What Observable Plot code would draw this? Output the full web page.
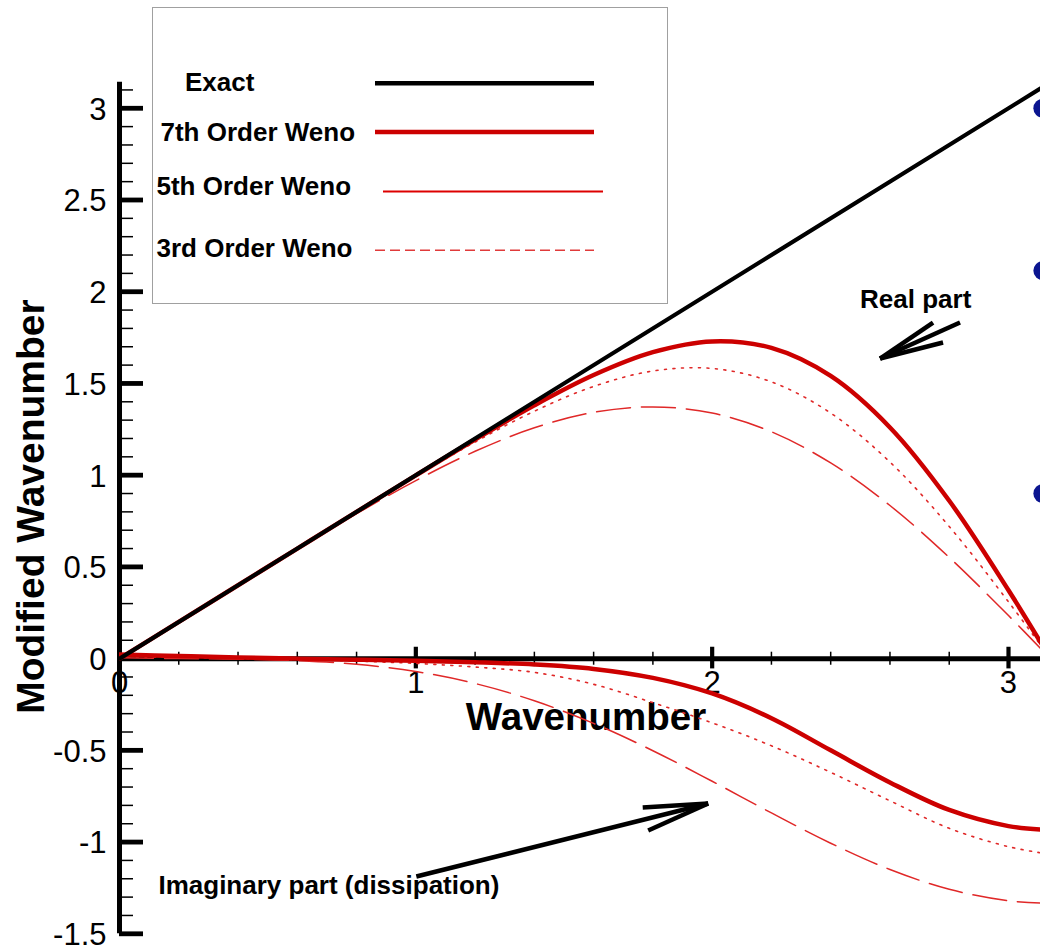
<!DOCTYPE html>
<html>
<head>
<meta charset="utf-8">
<script src="https://cdn.jsdelivr.net/npm/d3@7"></script>
<script src="https://cdn.jsdelivr.net/npm/@observablehq/plot@0.6"></script>
<style>
  html, body { margin: 0; padding: 0; background: #fff; overflow: hidden; }
  #wrap { position: relative; width: 1040px; height: 947px; }
  #legend { position: absolute; left: 0; top: 0; pointer-events: none; }
  #legend text { font-family: "Liberation Sans", Arial, Helvetica, sans-serif; font-weight: bold; font-size: 26px; fill: #000; }
</style>
</head>
<body>
<div id="wrap"></div>
<script>
// ---- data ----
const wavenumber = [0, 0.2, 0.4, 0.6, 0.8, 1.0, 1.2, 1.4, 1.6, 1.8, 2.0, 2.2, 2.4, 2.6, 2.8, 3.0, 3.1416];

const real7 = [0, 0.200, 0.400, 0.600, 0.7998, 0.9988, 1.1945, 1.3808, 1.5459, 1.6706, 1.7292, 1.6938, 1.5409, 1.2602, 0.8606, 0.3728, 0];
const real5 = [0, 0.200, 0.400, 0.5998, 0.7987, 0.9941, 1.1807, 1.3486, 1.4837, 1.5678, 1.5817, 1.5086, 1.3385, 1.0716, 0.7204, 0.3092, 0];
const real3 = [0, 0.200, 0.3997, 0.5975, 0.7899, 0.9704, 1.1301, 1.2581, 1.3425, 1.3722, 1.3385, 1.2366, 1.0666, 0.8346, 0.5519, 0.2347, 0];

const imag7 = [0.022, 0.014, 0.006, 0.0, -0.006, -0.012, -0.02, -0.032, -0.056, -0.105, -0.19, -0.325, -0.50, -0.675, -0.825, -0.913, -0.935];
const imag5 = [0.01, 0.006, 0.0, -0.006, -0.014, -0.026, -0.046, -0.075, -0.14, -0.24, -0.35, -0.475, -0.62, -0.775, -0.925, -1.025, -1.067];
const imag3 = [0.005, 0.0, -0.003, -0.011, -0.031, -0.0704, -0.1355, -0.2297, -0.3531, -0.502, -0.6685, -0.8411, -1.0062, -1.1494, -1.2574, -1.32, -1.3333];

const exactX = [0, 3.1416];
const exactY = [0, 3.1416];

const dotX = [3.116, 3.116, 3.116];
const dotY = [3.0, 2.115, 0.9];

const xMajor = [0, 1, 2, 3];
const xTickLabels = ["0", "1", "2", "3"];
const xMinor = [0.2, 0.4, 0.6, 0.8, 1.2, 1.4, 1.6, 1.8, 2.2, 2.4, 2.6, 2.8];

const yMajor = [-1.5, -1, -0.5, 0, 0.5, 1, 1.5, 2, 2.5, 3];
const yTickLabels = ["-1.5", "-1", "-0.5", "0", "0.5", "1", "1.5", "2", "2.5", "3"];
const yMinor = [-1.4, -1.3, -1.2, -1.1, -0.9, -0.8, -0.7, -0.6, -0.4, -0.3, -0.2, -0.1,
                0.1, 0.2, 0.3, 0.4, 0.6, 0.7, 0.8, 0.9, 1.1, 1.2, 1.3, 1.4, 1.6, 1.7, 1.8, 1.9,
                2.1, 2.2, 2.3, 2.4, 2.6, 2.7, 2.8, 2.9, 3.1];

const seriesNames = ["Exact", "7th Order Weno", "5th Order Weno", "3rd Order Weno"];

const annotationLabels = ["Real part", "Imaginary part (dissipation)"];
const annotationX = [2.499, 0.1315];
const annotationY = [1.912, -1.2805];

// arrow segments (shaft + two barbs) in data units
const arrowX1 = [2.8364, 2.5666, 2.5666, 1.0017, 1.9865, 1.9865];
const arrowY1 = [1.8321, 1.6359, 1.6359, -1.1878, -0.7899, -0.7899];
const arrowX2 = [2.5666, 2.7454, 2.7791, 1.9865, 1.7656, 1.7841];
const arrowY2 = [1.6359, 1.8321, 1.7231, -0.7899, -0.8117, -0.9370];

// ---- build tables ----
const toRows = (ys, key) => wavenumber.map((x, i) => ({x, y: ys[i], key}));
const rows7 = [...toRows(real7, "r7"), ...toRows(imag7, "i7")];
const rows5 = [...toRows(real5, "r5"), ...toRows(imag5, "i5")];
const rows3 = [...toRows(real3, "r3"), ...toRows(imag3, "i3")];
const exactRows = exactX.map((x, i) => ({x, y: exactY[i]}));
const dots = dotX.map((x, i) => ({x, y: dotY[i]}));
const xLab = xMajor.map((x, i) => ({x, label: xTickLabels[i]}));
const yLab = yMajor.map((y, i) => ({y, label: yTickLabels[i]}));
const annotations = annotationLabels.map((label, i) => ({label, x: annotationX[i], y: annotationY[i]}));
const arrows = arrowX1.map((x1, i) => ({x1, y1: arrowY1[i], x2: arrowX2[i], y2: arrowY2[i]}));

const RED = "#cc0000";
const W = 1040, H = 947;

const chart = Plot.plot({
  width: W,
  height: H,
  marginLeft: 119,
  marginRight: 0,
  marginTop: 81.8,
  marginBottom: 13.7,
  x: {domain: [0, 3.108], axis: null},
  y: {domain: [-1.5, Math.PI], axis: null},
  style: {fontFamily: "'Liberation Sans', Arial, Helvetica, sans-serif", background: "white", color: "black"},
  marks: [
    // axes
    Plot.ruleY([0], {stroke: "black", strokeWidth: 5}),
    Plot.ruleX([0], {stroke: "black", strokeWidth: 5}),
    Plot.tickY(yMajor, {y: d => d, insetRight: W - 119 - 24, stroke: "black", strokeWidth: 4.8}),
    Plot.tickY(yMinor, {y: d => d, insetRight: W - 119 - 14, stroke: "black", strokeWidth: 1.5}),
    Plot.ruleX(xMajor, {x: d => d, y1: 0.062, y2: -0.056, stroke: "black", strokeWidth: 4.2}),
    Plot.ruleX(xMinor, {x: d => d, y1: 0.035, y2: -0.036, stroke: "black", strokeWidth: 1.5}),
    Plot.text(yLab, {x: 0, y: "y", text: "label", textAnchor: "end", dx: -13, dy: 1.5, fontSize: 31, fill: "black"}),
    Plot.text(xLab, {x: "x", y: 0, text: "label", dy: 24, fontSize: 31, fill: "black"}),
    // axis titles
    Plot.text(["Wavenumber"], {frameAnchor: "bottom", textAnchor: "middle", lineAnchor: "bottom", dx: 6, dy: -204.3, fontSize: 38.5, fontWeight: "bold", fill: "black"}),
    Plot.text(["Modified Wavenumber"], {frameAnchor: "left", textAnchor: "middle", rotate: -90, lineAnchor: "bottom", dx: -75.5, dy: -1.5, fontSize: 39, fontWeight: "bold", fill: "black"}),
    // curves
    Plot.line(rows3, {x: "x", y: "y", z: "key", stroke: "#e02828", strokeWidth: 1.5, strokeDasharray: "34,11", curve: "catmull-rom", clip: true}),
    Plot.line(rows5, {x: "x", y: "y", z: "key", stroke: "#e02828", strokeWidth: 1.6, strokeDasharray: "2,6.5", curve: "catmull-rom", clip: true}),
    Plot.line(rows7, {x: "x", y: "y", z: "key", stroke: RED, strokeWidth: 4.5, curve: "catmull-rom", clip: true}),
    Plot.line(exactRows, {x: "x", y: "y", stroke: "black", strokeWidth: 4.2, clip: true}),
    // blue markers at the right edge
    Plot.dot(dots, {x: "x", y: "y", r: 9.5, fill: "#0b1590", stroke: "none", clip: true}),
    // annotations
    Plot.link(arrows, {x1: "x1", y1: "y1", x2: "x2", y2: "y2", stroke: "black", strokeWidth: 4.5}),
    Plot.text(annotations, {x: "x", y: "y", text: "label", textAnchor: "start", lineAnchor: "bottom", fontSize: 26, fontWeight: "bold", fill: "black"})
  ]
});

const wrap = document.getElementById("wrap");
wrap.appendChild(chart);

// ---- legend (overlay, real text) ----
const ns = "http://www.w3.org/2000/svg";
const leg = document.createElementNS(ns, "svg");
leg.setAttribute("id", "legend");
leg.setAttribute("width", W);
leg.setAttribute("height", 320);
const legendText = [
  {x: 185, y: 90.5},
  {x: 160.5, y: 140.5},
  {x: 156.5, y: 195},
  {x: 156.5, y: 256.5}
];
const legendLine = [
  {x1: 375, x2: 594, y: 83.3, stroke: "black", w: 4.5, dash: null},
  {x1: 375, x2: 594, y: 132, stroke: RED, w: 4.5, dash: null},
  {x1: 383, x2: 603, y: 191.5, stroke: "#dd0000", w: 1.8, dash: null},
  {x1: 375, x2: 594, y: 250.3, stroke: "#e03a3a", w: 1.4, dash: "10,5"}
];
let html = `<rect x="152.5" y="7.5" width="515" height="296" fill="white" stroke="#a0a0a0" stroke-width="1"/>`;
seriesNames.forEach((name, i) => {
  const t = legendText[i], l = legendLine[i];
  html += `<text x="${t.x}" y="${t.y}">${name}</text>`;
  html += `<line x1="${l.x1}" x2="${l.x2}" y1="${l.y}" y2="${l.y}" stroke="${l.stroke}" stroke-width="${l.w}"${l.dash ? ` stroke-dasharray="${l.dash}"` : ""}/>`;
});
leg.innerHTML = html;
wrap.appendChild(leg);
</script>
</body>
</html>
